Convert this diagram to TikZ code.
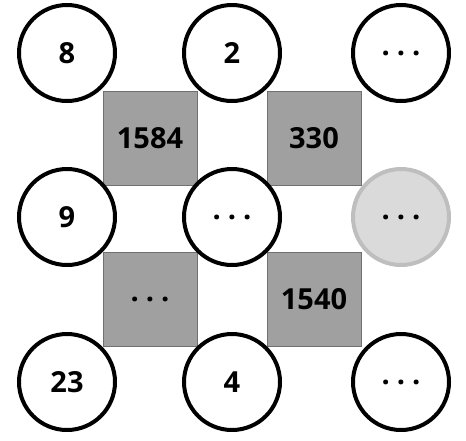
\documentclass[tikz,border=0pt]{standalone}
\usepackage{fontspec}
\setmainfont{Open Sans}
\usepackage{tikz}
\usetikzlibrary{positioning}
\definecolor{CellGray}{HTML}{A0A0A0}
\definecolor{CellEdge}{HTML}{707070}
\definecolor{FadeFill}{HTML}{DADADA}
\definecolor{FadeEdge}{HTML}{BEBEBE}

\newcommand{\moredots}{.\hspace{7pt}.\hspace{7pt}.}

\tikzset{
    numnode/.style={circle, draw=black, fill=white, line width=4pt, minimum size=96pt, inner sep=0pt, font=\fontsize{29}{32}\selectfont\bfseries},
    fadenode/.style={numnode, draw=FadeEdge, fill=FadeFill},
    prodcell/.style={rectangle, draw=CellEdge, fill=CellGray, line width=1pt, minimum size=94pt, inner sep=0pt, font=\fontsize{29}{32}\selectfont\bfseries}
}

\begin{document}
\begin{tikzpicture}[x=1pt, y=1pt]
    \useasboundingbox (0,0) rectangle (466,-440);

    % product cells
    \node[prodcell] (p11) at (150,-138) {1584};
    \node[prodcell] (p12) at (314,-138) {330};
    \node[prodcell] (p21) at (150,-299) {\moredots};
    \node[prodcell] (p22) at (314,-299) {1540};

    % number circles
    \node[numnode] (n11) at (67,-53) {8};
    \node[numnode] (n12) at (232,-53) {2};
    \node[numnode] (n13) at (401,-53) {\moredots};
    \node[numnode] (n21) at (67,-217) {9};
    \node[numnode] (n22) at (232,-217) {\moredots};
    \node[fadenode] (n23) at (401,-217) {\moredots};
    \node[numnode] (n31) at (67,-382) {23};
    \node[numnode] (n32) at (232,-382) {4};
    \node[numnode] (n33) at (401,-382) {\moredots};
\end{tikzpicture}
\end{document}
